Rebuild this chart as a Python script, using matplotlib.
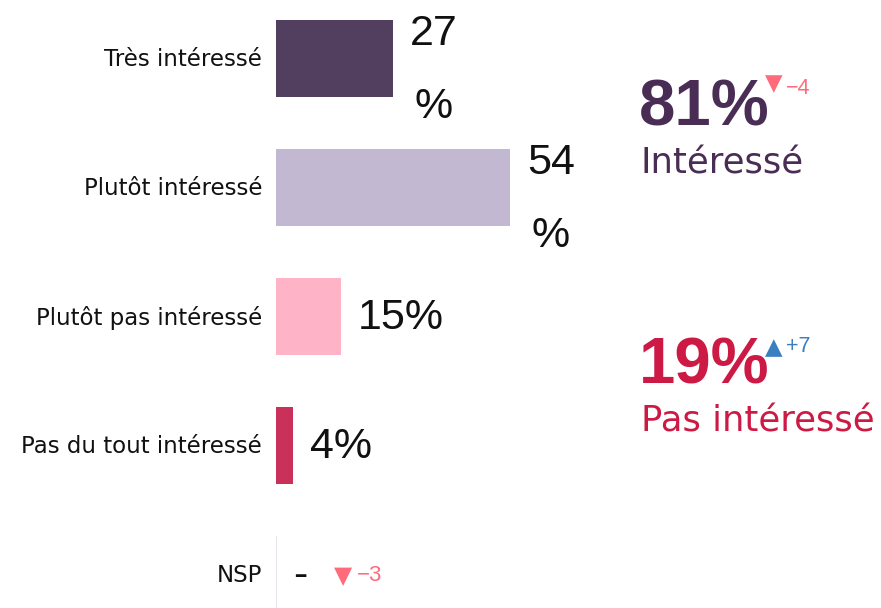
import matplotlib
matplotlib.use("Agg")
import matplotlib.pyplot as plt

# ── data ──────────────────────────────────────────────────────────────
categories = ["Très intéressé", "Plutôt intéressé", "Plutôt pas intéressé",
              "Pas du tout intéressé", "NSP"]
values = [27, 54, 15, 4, 0]
value_labels = ["27\n%", "54\n%", "15%", "4%", "-"]
nsp_change = -3

groups = ["Intéressé", "Pas intéressé"]
group_totals = [81, 19]
group_changes = [-4, 7]

# ── style ─────────────────────────────────────────────────────────────
_BAR_COLORS = ["#523f60", "#c3b8d1", "#ffb3c6", "#c9305a", "#c9305a"]
_GROUP_COLORS = ["#4a2d55", "#cc1a45"]
_DOWN = "#ff6b7a"
_UP = "#3a7fc1"
_WORD = "DejaVu Sans"
_NUM = "Liberation Sans"

W, H = 881, 608
fig = plt.figure(figsize=(W / 100, H / 100), dpi=100)


def fx(px):
    return px / W


def fy(py):
    return 1 - py / H


# bar axes: left edge at x=276 px, 129 px per row, 4.33 px per percent
x0 = 276
px_per_pct = 4.33
row_px = 129
first_center = 58.5
ax = fig.add_axes([x0 / W, 0, 1 - x0 / W, 1])
ax.set_xlim(0, (W - x0) / px_per_pct)
ax.set_ylim((H - first_center) / row_px, -first_center / row_px)
ax.axis("off")

ypos = list(range(len(categories)))
ax.barh(ypos, values, height=0.6, color=_BAR_COLORS, left=0)

# thin axis line only visible at the empty NSP row
ax.vlines(0, ypos[-1] - 0.3, ypos[-1] + 0.3, color="#dde0ea", linewidth=1.2)

pct_off = 17 / px_per_pct
for y, v, lab, cat in zip(ypos, values, value_labels, categories):
    ax.text(-14 / px_per_pct, y + 0.01, cat, ha="right", va="center",
            fontsize=16.5, family=_WORD, color="#111111")
    dy = 0.095 if "\n" in lab else 0.012
    ax.text(v + pct_off, y + dy, lab, ha="left", va="center", multialignment="center",
            fontsize=31, family=_NUM, color="#111111", linespacing=2.06)

# NSP evolution
ax.text(15.5, ypos[-1] + 0.01, "▼", ha="center", va="center",
        fontsize=17, family="DejaVu Sans", color=_DOWN)
ax.text(18.6, ypos[-1] + 0.01, f"−{abs(nsp_change)}", ha="left", va="center",
        fontsize=16, family=_NUM, color=_DOWN)

# ── group totals on the right ────────────────────────────────────────
num_base = [125, 383]
word_base = [173, 432]
for nb, wb, name, tot, chg, col in zip(num_base, word_base, groups,
                                        group_totals, group_changes, _GROUP_COLORS):
    fig.text(fx(639), fy(nb), f"{tot}%", ha="left", va="baseline",
             fontsize=47, fontweight="bold", family=_NUM, color=col)
    if chg < 0:
        sym, txt, c, tri_y = "▼", f"−{abs(chg)}", _DOWN, nb - 41.5
    else:
        sym, txt, c, tri_y = "▲", f"+{chg}", _UP, nb - 35.5
    fig.text(fx(774), fy(tri_y), sym, ha="center", va="center",
             fontsize=16.5, family="DejaVu Sans", color=c)
    fig.text(fx(786), fy(nb - 31), txt, ha="left", va="baseline",
             fontsize=15.5, family=_NUM, color=c)
    fig.text(fx(641), fy(wb), name, ha="left", va="baseline",
             fontsize=25.5, family=_WORD, color=col)

fig.savefig("out.png", dpi=100, facecolor="white")
